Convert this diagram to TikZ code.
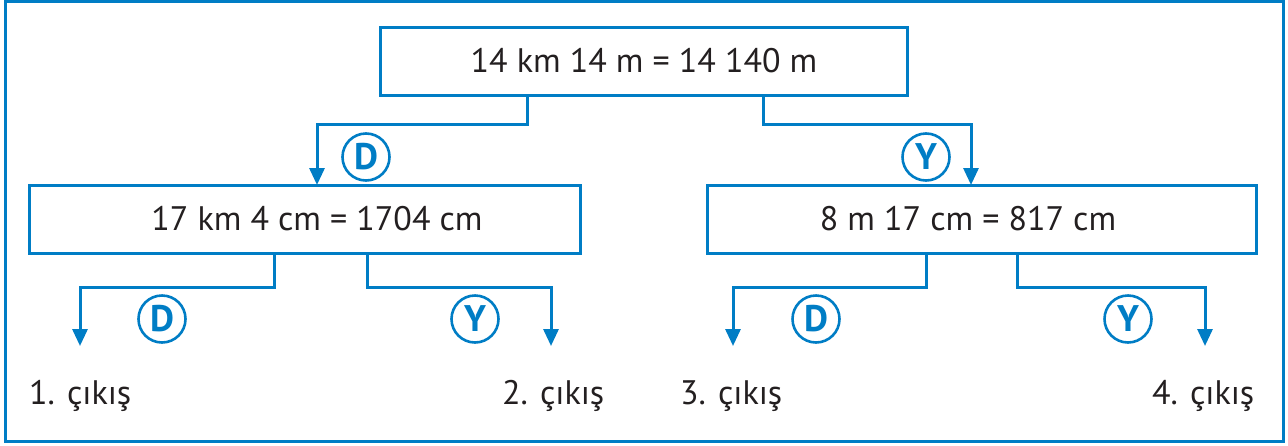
\documentclass[tikz,border=0pt]{standalone}
\usepackage{fontspec}
\setmainfont{PT Sans}
\usetikzlibrary{arrows.meta}
\definecolor{myblue}{RGB}{0,125,197}
\definecolor{mytext}{RGB}{35,31,32}
\tikzset{
  valbox/.style={draw=myblue,line width=3pt,minimum height=68pt,inner sep=0pt},
  valtext/.style={text=mytext,font=\fontsize{34}{40}\selectfont,inner sep=0pt},
  conn/.style={draw=myblue,line width=3pt,-{Triangle[width=15pt,length=17pt]}},
  answer/.style={circle,draw=myblue,line width=2.6pt,minimum size=47pt,inner sep=0pt,text=myblue,font=\fontsize{37}{40}\selectfont\bfseries},
  outtext/.style={text=mytext,font=\fontsize{34}{40}\selectfont,inner sep=0pt,anchor=west}
}
\begin{document}
\begin{tikzpicture}[x=1pt,y=-1pt]
\useasboundingbox (0,0) rectangle (1288,445);
\draw[draw=myblue,line width=3pt] (5,1.5) rectangle (1283,441);
\node[valbox,minimum width=527pt] (top) at (643.5,61) {};
\node[valbox,minimum width=551pt] (l) at (304.5,219) {};
\node[valbox,minimum width=549pt] (r) at (981.5,219) {};
\node[valtext] (topt) at (644,61) {14 km 14 m = 14 140 m};
\node[valtext] (lt) at (317,219) {17 km 4 cm = 1704 cm};
\node[valtext] (rt) at (968,219) {8 m 17 cm = 817 cm};
\coordinate (o1) at (80,346);
\coordinate (o2) at (551,346);
\coordinate (o3) at (733,346);
\coordinate (o4) at (1205,346);
\draw[conn] (top.south -| 527,0) |- (317,124) -- (317,185);
\draw[conn] (top.south -| 763,0) |- (971,124) -- (971,185);
\draw[conn] (l.south -| 274,0) |- (80,287) -- (o1);
\draw[conn] (l.south -| 367,0) |- (551,287) -- (o2);
\draw[conn] (r.south -| 926,0) |- (733,287) -- (o3);
\draw[conn] (r.south -| 1017,0) |- (1205,287) -- (o4);
\node[answer] (a1) at (366,157) {D};
\node[answer] (a2) at (926,157) {Y};
\node[answer] (a3) at (162,319) {D};
\node[answer] (a4) at (475,319) {Y};
\node[answer] (a5) at (816,319) {D};
\node[answer] (a6) at (1128,319) {Y};
\node[outtext] (t1) at (29,396) {1. çıkış};
\node[outtext] (t2) at (502,396) {2. çıkış};
\node[outtext] (t3) at (680,396) {3. çıkış};
\node[outtext] (t4) at (1152,396) {4. çıkış};
\end{tikzpicture}
\end{document}
